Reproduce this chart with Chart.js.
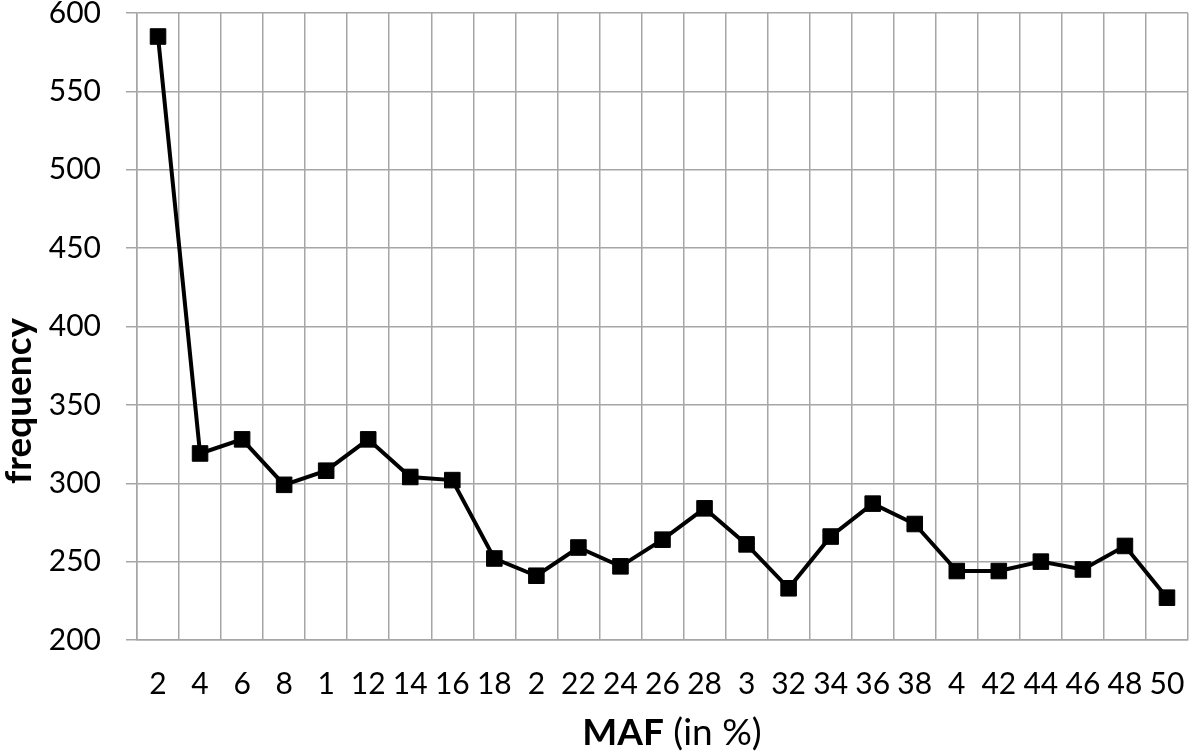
<!DOCTYPE html>
<html>
<head>
<meta charset="utf-8">
<script src="https://cdn.jsdelivr.net/npm/chart.js@4.4.1/dist/chart.umd.min.js"></script>
<style>
  html, body { margin: 0; padding: 0; background: #ffffff; }
  #wrap { width: 1200px; height: 752px; position: relative; }
</style>
</head>
<body>
<div id="wrap"><canvas id="c"></canvas></div>
<script>
const categories = ["2","4","6","8","1","12","14","16","18","2","22","24","26","28","3","32","34","36","38","4","42","44","46","48","50"];
const frequency = [585,319,328,299,308,328,304,302,252,241,259,247,264,284,261,233,266,287,274,244,244,250,245,260,227];
const yMin = 200, yMax = 600, yStep = 50;
const xTitleBold = "MAF";
const xTitleRest = " (in %)";
const yTitle = "frequency";

const FONT = "Lato, 'Open Sans', sans-serif";

const titlePlugin = {
  id: 'titles',
  afterDraw(chart) {
    const ctx = chart.ctx;
    ctx.save();
    ctx.fillStyle = '#000';
    ctx.textBaseline = 'middle';
    ctx.font = "bold 37px " + FONT;
    const wB = ctx.measureText(xTitleBold).width;
    ctx.font = "37px " + FONT;
    const wR = ctx.measureText(xTitleRest).width;
    const cx = 672;
    const x0 = cx - (wB + wR) / 2;
    ctx.textAlign = 'left';
    ctx.font = "bold 37px " + FONT;
    ctx.fillText(xTitleBold, x0, 733);
    ctx.font = "37px " + FONT;
    ctx.fillText(xTitleRest, x0 + wB, 733);
    ctx.translate(19, 401);
    ctx.rotate(-Math.PI / 2);
    ctx.textAlign = 'center';
    ctx.font = "bold 37px " + FONT;
    ctx.fillText(yTitle, 0, 0);
    ctx.restore();
  }
};

function zeroPad(scale) {
  scale.paddingTop = 0; scale.paddingBottom = 0;
  scale.paddingLeft = 0; scale.paddingRight = 0;
}

new Chart(document.getElementById('c'), {
  type: 'line',
  data: {
    labels: categories,
    datasets: [{
      data: frequency,
      borderColor: '#000',
      backgroundColor: '#000',
      borderWidth: 4,
      pointStyle: 'rect',
      pointRadius: 11,
      pointBorderWidth: 1,
      pointBackgroundColor: '#000',
      pointBorderColor: '#000',
      tension: 0,
      clip: false
    }]
  },
  options: {
    responsive: true,
    maintainAspectRatio: false,
    animation: false,
    layout: { padding: { top: 13, right: 0, left: 0, bottom: 0 } },
    plugins: { legend: { display: false }, tooltip: { enabled: false } },
    scales: {
      x: {
        type: 'category',
        offset: true,
        grid: { offset: true, color: '#a6a6a6', lineWidth: 1.5, drawTicks: false },
        border: { color: '#a6a6a6', width: 1.5 },
        ticks: { color: '#000', font: { family: FONT, size: 30 }, padding: 26, maxRotation: 0, autoSkip: false },
        afterFit(scale) { scale.height = 112; zeroPad(scale); }
      },
      y: {
        min: yMin, max: yMax,
        grid: { color: '#a6a6a6', lineWidth: 1.5, tickLength: 11 },
        border: { color: '#a6a6a6', width: 1.5 },
        ticks: { stepSize: yStep, color: '#000', font: { family: FONT, size: 30 }, padding: 25 },
        afterFit(scale) { scale.width = 137; zeroPad(scale); }
      }
    }
  },
  plugins: [titlePlugin]
});
</script>
</body>
</html>
